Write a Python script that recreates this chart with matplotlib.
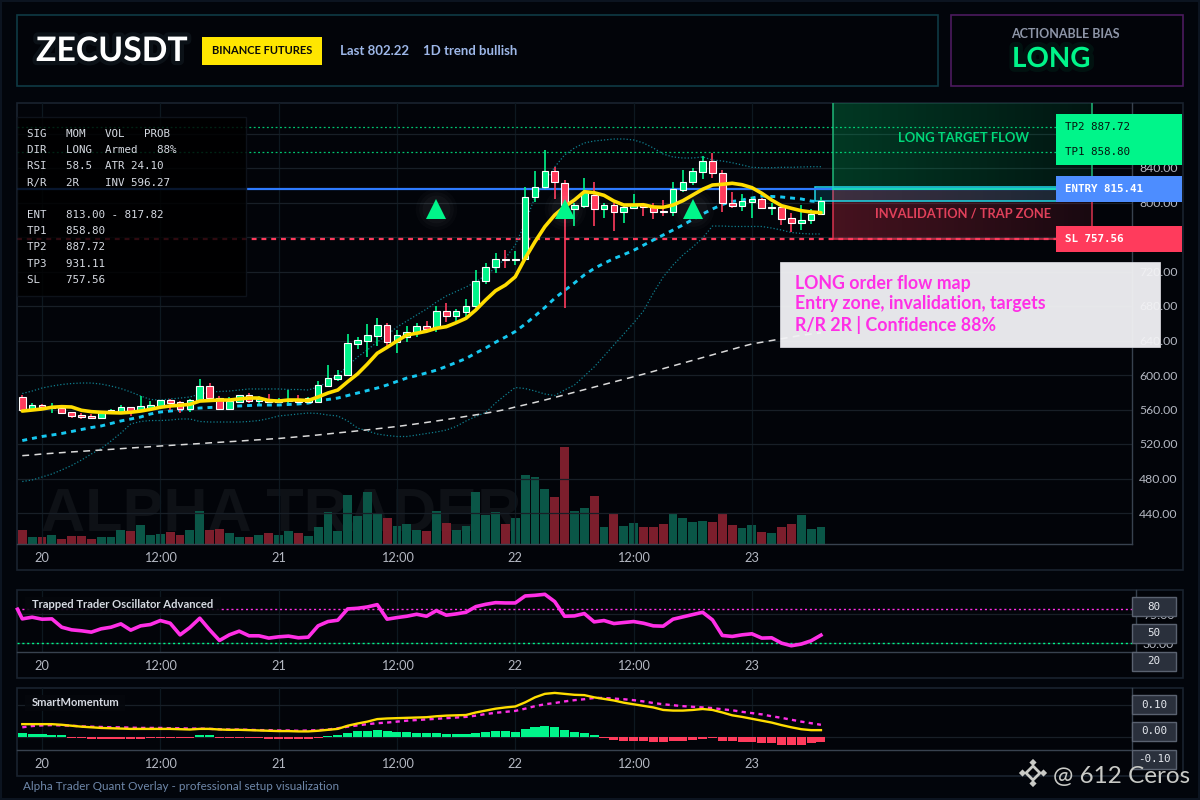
"""ZECUSDT trade setup board: candles, zones and two indicator panes."""

import matplotlib
matplotlib.use("Agg")
import matplotlib.pyplot as plt
import matplotlib.patheffects as pe
import numpy as np
from matplotlib.patches import Polygon, Rectangle

# hourly candles, index 2 is day 20 00:00
opens = [574.1, 560.2, 565.2, 561.4, 562.1, 556.7, 553.6, 552.5, 550.5, 556.7,
         557.5, 562.5, 558.6, 561.7, 564.4, 570.6, 568.3, 560.2, 571.0, 586.9,
         573.7, 561.0, 569.1, 576.4, 570.2, 571.8, 569.1, 569.5, 571.0, 569.1,
         569.1, 587.6, 595.7, 599.6, 636.3, 639.8, 645.6, 657.6, 638.3, 644.4,
         649.5, 656.4, 654.1, 673.9, 668.8, 673.4, 679.6, 708.6, 724.9, 734.5,
         733.7, 734.1, 806.0, 817.6, 836.2, 822.3, 792.8, 796.3, 808.3, 792.1,
         796.8, 789.3, 794.0, 797.7, 794.4, 789.8, 789.3, 814.8, 823.4, 835.7,
         848.1, 833.8, 799.0, 796.3, 800.9, 804.0, 794.1, 795.1, 781.7, 776.6,
         779.3, 786.3]
closes = [559.4, 564.8, 562.5, 563.3, 556.3, 552.9, 551.3, 550.5, 555.6, 559.0,
          562.5, 557.1, 563.7, 565.2, 570.6, 567.9, 560.2, 570.6, 586.9, 573.7,
          561.0, 570.2, 576.4, 570.2, 571.8, 569.1, 571.0, 571.0, 568.3, 573.0,
          588.0, 596.5, 600.0, 636.8, 640.2, 646.0, 657.6, 638.6, 646.0, 649.5,
          656.4, 653.7, 674.2, 668.8, 674.2, 680.0, 708.6, 724.9, 734.1, 733.7,
          734.5, 806.0, 817.6, 836.2, 823.4, 797.1, 797.1, 812.5, 792.1, 796.8,
          789.3, 794.4, 797.1, 795.1, 789.3, 789.5, 815.3, 823.4, 836.2, 848.1,
          833.8, 799.0, 796.3, 801.7, 804.0, 794.0, 794.6, 781.2, 776.6, 779.3,
          786.3, 802.22]
highs = [576.8, 567.5, 566.0, 567.1, 563.3, 557.5, 555.6, 554.8, 556.3, 560.6,
         565.2, 563.3, 575.7, 569.5, 571.4, 571.8, 569.5, 571.8, 595.0, 590.3,
         575.7, 574.1, 577.2, 578.7, 575.7, 578.0, 572.9, 582.6, 576.8, 574.1,
         593.0, 611.6, 605.8, 647.5, 643.7, 659.1, 665.7, 660.3, 652.2, 656.8,
         660.3, 662.6, 680.0, 683.1, 676.5, 687.8, 721.7, 729.9, 741.1, 744.9,
         743.8, 817.6, 836.5, 860.9, 840.8, 826.1, 799.4, 828.4, 823.8, 799.4,
         799.4, 797.1, 809.9, 799.4, 799.4, 802.9, 823.4, 837.7, 839.6, 853.9,
         857.0, 837.7, 812.2, 809.9, 806.7, 805.2, 799.1, 797.1, 787.5, 796.8,
         792.1, 806.0]
lows = [558.6, 559.4, 561.4, 556.3, 555.2, 550.5, 549.0, 549.8, 549.0, 556.3,
        556.7, 552.9, 557.5, 560.2, 564.0, 559.4, 555.9, 557.5, 570.2, 571.0,
        560.2, 560.2, 568.3, 567.9, 566.0, 567.9, 567.1, 567.1, 567.1, 568.3,
        568.3, 586.1, 593.0, 598.8, 629.8, 621.2, 633.6, 633.6, 625.8, 638.6,
        644.4, 651.4, 650.2, 661.8, 662.6, 667.6, 676.5, 705.5, 717.9, 724.4,
        727.5, 733.3, 800.9, 815.3, 804.0, 677.3, 772.7, 794.0, 772.7, 782.0,
        767.3, 776.6, 794.0, 784.3, 780.9, 784.3, 784.3, 812.5, 820.3, 827.3,
        828.8, 789.3, 794.0, 790.1, 781.7, 793.6, 785.5, 773.9, 766.2, 768.1,
        775.1, 785.2]
volumes = [14.3, 7.0, 7.0, 9.0, 5.3, 8.3, 8.3, 5.3, 7.3, 7.3,
           14.3, 13.3, 19.3, 9.3, 10.3, 12.0, 9.3, 14.3, 33.3, 14.3,
           15.3, 11.3, 7.3, 7.3, 9.3, 11.3, 9.3, 13.3, 11.3, 8.3,
           17.3, 32.3, 13.3, 49.3, 28.3, 52.3, 31.3, 26.3, 18.3, 20.3,
           14.3, 13.3, 33.3, 21.3, 14.3, 18.3, 52.3, 29.3, 32.3, 20.3,
           26.3, 69.3, 67.3, 55.3, 47.3, 97.3, 33.3, 36.3, 48.3, 17.3,
           30.3, 18.3, 21.3, 17.3, 17.3, 20.3, 31.3, 26.3, 22.3, 23.3,
           22.3, 31.3, 19.3, 16.3, 19.3, 12.3, 11.3, 17.3, 20.3, 29.3,
           15.3, 17.3]

ema_fast = [558.2, 559.4, 560.6, 562.6, 563.3, 562.9, 559.1, 557.5, 556.8, 556.3,
            556.0, 556.8, 558.2, 560.2, 562.6, 564.1, 564.9, 566.0, 569.8, 570.4,
            571.0, 571.0, 572.2, 573.3, 573.3, 570.4, 569.8, 571.0, 571.0, 570.4,
            574.5, 579.1, 582.6, 592.2, 601.2, 612.7, 625.2, 632.1, 639.4, 646.4,
            648.4, 650.7, 654.2, 656.0, 660.6, 665.7, 675.4, 687.0, 697.7, 704.3,
            713.9, 735.3, 754.5, 772.0, 785.5, 795.1, 802.9, 812.5, 811.4, 808.3,
            801.7, 797.1, 797.1, 797.4, 794.8, 794.4, 797.1, 802.1, 808.7, 815.3,
            820.3, 821.1, 822.3, 820.6, 817.2, 810.7, 802.9, 796.3, 793.3, 790.5,
            789.0, 788.2]
ema_slow = [524.0, 526.4, 528.7, 530.4, 532.2, 534.5, 536.8, 539.1, 540.9, 543.8,
            546.7, 549.0, 551.3, 554.8, 557.1, 558.2, 559.4, 560.6, 561.7, 562.3,
            562.9, 563.5, 564.1, 564.6, 565.2, 565.2, 565.2, 565.8, 566.4, 567.5,
            569.8, 571.6, 573.3, 576.2, 579.1, 582.0, 584.9, 588.4, 592.5, 596.5,
            599.3, 602.4, 605.6, 609.9, 614.5, 619.1, 625.5, 631.3, 638.0, 644.0,
            650.4, 659.0, 668.5, 678.3, 689.0, 698.0, 706.7, 716.0, 723.5, 729.5,
            735.0, 739.6, 744.5, 750.5, 756.5, 762.3, 768.1, 773.9, 780.3, 786.7,
            792.5, 797.7, 801.2, 802.9, 805.2, 807.5, 807.0, 806.4, 805.2, 804.1,
            801.7, 800.6]
ema_long = [506.5, 507.3, 508.4, 509.2, 510.0, 510.8, 511.5, 512.3, 513.0, 513.8,
            514.6, 515.4, 516.1, 516.9, 517.7, 518.4, 519.1, 519.8, 520.5, 521.3,
            522.0, 522.7, 523.4, 524.2, 524.9, 525.7, 526.4, 527.4, 528.4, 529.4,
            530.5, 531.7, 532.9, 534.0, 535.2, 536.4, 537.7, 539.0, 540.3, 541.8,
            543.4, 545.0, 546.7, 548.4, 550.2, 552.0, 553.8, 555.7, 557.7, 560.0,
            562.9, 565.5, 568.2, 571.0, 574.0, 577.0, 580.0, 583.0, 586.0, 589.0,
            592.0, 595.0, 598.0, 601.0, 604.2, 607.4, 610.6, 613.8, 617.0, 620.2,
            623.4, 626.6, 629.8, 633.0, 636.0, 638.0, 640.0, 642.0, 644.0, 646.0,
            647.5, 649.0]
bb_upper = [578.5, 581.4, 584.9, 587.2, 589.0, 590.1, 590.7, 590.7, 589.5, 587.2,
            584.3, 580.3, 575.7, 571.6, 571.0, 572.2, 573.3, 574.5, 577.9, 580.3,
            580.9, 581.4, 582.6, 583.8, 583.8, 583.8, 583.8, 583.2, 583.2, 582.6,
            586.1, 591.9, 600.0, 610.4, 620.9, 629.0, 638.3, 646.4, 655.6, 662.6,
            669.6, 676.5, 684.6, 691.6, 696.8, 702.0, 707.8, 715.9, 724.0, 735.6,
            750.7, 776.2, 806.4, 822.6, 841.2, 855.1, 863.2, 869.0, 871.3, 872.5,
            873.6, 873.6, 872.5, 869.0, 863.2, 856.2, 852.8, 851.6, 851.6, 852.8,
            849.3, 848.1, 846.1, 843.5, 840.8, 840.3, 840.3, 840.8, 840.8, 841.2,
            841.5, 841.5]
bb_lower = [476.5, 478.3, 481.7, 485.2, 489.9, 495.1, 501.4, 508.4, 514.8, 523.5,
            532.7, 543.2, 546.1, 547.2, 547.2, 547.8, 549.0, 549.0, 546.1, 545.5,
            545.5, 545.5, 545.5, 546.1, 547.2, 549.5, 552.5, 553.6, 554.8, 555.9,
            555.4, 553.6, 552.5, 546.7, 538.5, 535.1, 531.6, 529.9, 528.7, 528.7,
            530.4, 532.2, 533.9, 536.2, 540.3, 546.7, 551.9, 556.5, 567.5, 576.8,
            585.5, 584.3, 581.4, 578.0, 576.2, 582.6, 588.4, 598.8, 609.3, 622.0,
            634.8, 647.5, 660.3, 674.2, 695.0, 713.6, 727.5, 739.1, 748.4, 758.8,
            772.7, 772.7, 772.2, 772.2, 772.2, 772.2, 770.4, 768.1, 765.2, 764.1,
            763.5, 763.5]

oscillator = [67.7, 70.3, 67.2, 67.7, 54.7, 50.6, 49.1, 47.0, 52.2, 54.7,
              59.9, 50.1, 56.8, 58.9, 65.1, 60.9, 42.8, 54.2, 68.7, 50.6,
              34.0, 42.8, 48.5, 41.3, 41.3, 37.7, 39.7, 40.8, 38.2, 39.2,
              56.8, 63.5, 65.6, 83.2, 84.2, 86.3, 89.9, 67.2, 69.7, 71.8,
              74.9, 71.8, 80.6, 73.4, 75.4, 78.0, 86.8, 90.4, 93.0, 92.5,
              92.5, 103.4, 104.4, 106.0, 94.6, 71.8, 72.3, 76.0, 63.0, 65.1,
              60.4, 62.0, 63.5, 60.9, 56.8, 56.3, 67.2, 70.8, 74.4, 78.0,
              66.1, 41.8, 40.3, 42.8, 44.4, 37.7, 38.2, 29.9, 25.8, 28.4,
              33.5, 42.3]
osc_first = 82.7

mom_line = [0.040, 0.040, 0.040, 0.040, 0.038, 0.035, 0.032, 0.030, 0.028, 0.027,
            0.026, 0.025, 0.025, 0.025, 0.025, 0.025, 0.024, 0.023, 0.025, 0.025,
            0.023, 0.022, 0.022, 0.021, 0.020, 0.019, 0.018, 0.018, 0.017, 0.017,
            0.019, 0.022, 0.025, 0.035, 0.042, 0.048, 0.056, 0.058, 0.059, 0.060,
            0.061, 0.062, 0.065, 0.067, 0.068, 0.069, 0.077, 0.083, 0.089, 0.093,
            0.096, 0.109, 0.125, 0.136, 0.139, 0.136, 0.133, 0.132, 0.125, 0.120,
            0.115, 0.108, 0.103, 0.098, 0.093, 0.085, 0.083, 0.083, 0.085, 0.088,
            0.085, 0.077, 0.068, 0.063, 0.057, 0.051, 0.045, 0.037, 0.030, 0.024,
            0.021, 0.021]
mom_signal = [0.030, 0.034, 0.036, 0.037, 0.036, 0.035, 0.033, 0.032, 0.031, 0.030,
              0.030, 0.029, 0.028, 0.028, 0.028, 0.027, 0.027, 0.026, 0.026, 0.025,
              0.024, 0.023, 0.023, 0.022, 0.021, 0.021, 0.020, 0.020, 0.019, 0.020,
              0.021, 0.023, 0.027, 0.032, 0.036, 0.040, 0.043, 0.045, 0.048, 0.051,
              0.053, 0.055, 0.057, 0.059, 0.061, 0.063, 0.067, 0.072, 0.076, 0.079,
              0.082, 0.089, 0.097, 0.103, 0.107, 0.112, 0.116, 0.119, 0.123, 0.123,
              0.121, 0.119, 0.116, 0.112, 0.107, 0.103, 0.100, 0.097, 0.095, 0.093,
              0.091, 0.087, 0.084, 0.079, 0.075, 0.071, 0.065, 0.060, 0.054, 0.048,
              0.043, 0.038]
mom_hist = [0.013, 0.010, 0.010, 0.007, 0.005, -0.004, -0.004, -0.006, -0.006, -0.006,
            -0.006, -0.006, -0.006, -0.004, -0.004, -0.004, -0.004, -0.004, 0.005, 0.005,
            -0.004, -0.004, -0.004, -0.004, -0.004, -0.006, -0.006, -0.006, -0.006, -0.006,
            -0.004, 0.004, 0.007, 0.013, 0.017, 0.019, 0.023, 0.019, 0.016, 0.016,
            0.013, 0.013, 0.013, 0.010, 0.010, 0.010, 0.013, 0.016, 0.019, 0.019,
            0.016, 0.026, 0.032, 0.035, 0.032, 0.023, 0.016, 0.013, 0.007, -0.003,
            -0.009, -0.012, -0.012, -0.015, -0.018, -0.018, -0.015, -0.012, -0.009, -0.006,
            -0.005, -0.012, -0.015, -0.018, -0.018, -0.021, -0.021, -0.025, -0.025, -0.025,
            -0.021, -0.018]

# trade levels
entry = 815.41
entry_zone = (802.22, 817.82)
stop = 757.56
tp1 = 858.80
tp2 = 887.72
tp3 = 931.11
signal_candles = [42, 55, 68]
signal_price = 793.0

price_ticks = [440, 480, 520, 560, 600, 640, 680, 720, 760, 800, 840, 880]
time_ticks = [0, 12, 24, 36, 48, 60, 72]
time_labels = ["20", "12:00", "21", "12:00", "22", "12:00", "23"]

panel_rows = [
    "SIG   MOM   VOL   PROB",
    "DIR   LONG  Armed   88%",
    "RSI   58.5  ATR 24.10",
    "R/R   2R    INV 596.27",
    "",
    "ENT   813.00 - 817.82",
    "TP1   858.80",
    "TP2   887.72",
    "TP3   931.11",
    "SL    757.56",
]

GREEN = "#00F58A"
RED = "#FF3B5C"
BLUE = "#2E7BFF"
YELLOW = "#FFDD00"
CYAN = "#16C8F0"
MAGENTA = "#FF2FE6"
PAGE = "#02050B"
PANEL = "#020409"
GRID_H = "#181F27"
GRID_V = "#0D1820"
AXIS = "#38424F"
FRAME = "#19232F"
TICK = "#B4B8C2"
SANS = ["Lato", "DejaVu Sans"]
MONO = "DejaVu Sans Mono"

W, H = 1200, 800
times = np.arange(len(closes)) - 2
hour_px = 9.86
price_px = 0.8625


def px_rect(x0, y0, x1, y1):
    return [x0 / W, 1 - y1 / H, (x1 - x0) / W, (y1 - y0) / H]


def hour_at(x):
    return (x - 42) / hour_px


def y_of_price(p):
    return 513 - (p - 440) * price_px


def style_pane(ax, ticks, labels, xleft, xright, right_ticks, fmt, show_right=True):
    ax.set_facecolor("none")
    ax.set_xlim(hour_at(xleft), hour_at(xright))
    ax.set_xticks(ticks)
    ax.set_xticklabels(labels)
    ax.tick_params(axis="x", length=0, pad=6, labelsize=9.2, labelcolor=TICK)
    ax.tick_params(axis="y", length=0, pad=5, labelsize=8.8, labelcolor=TICK,
                   left=False, labelleft=False, right=False, labelright=show_right)
    ax.set_yticks(right_ticks)
    ax.set_yticklabels([fmt.format(v) for v in right_ticks])
    for lab in ax.get_xticklabels() + ax.get_yticklabels():
        lab.set_fontfamily(SANS)
    ax.grid(True, axis="y", color=GRID_H, linewidth=0.9)
    ax.grid(True, axis="x", color=GRID_V, linewidth=0.9)
    ax.set_axisbelow(True)
    ax.spines[["top", "left"]].set_visible(False)
    ax.spines[["bottom", "right"]].set_color(AXIS)
    ax.spines[["bottom", "right"]].set_linewidth(1.0)


fig = plt.figure(figsize=(12, 8), dpi=100, facecolor=PAGE)
under = fig.add_axes([0, 0, 1, 1], zorder=0)
under.set_xlim(0, W)
under.set_ylim(H, 0)
under.axis("off")
over = fig.add_axes([0, 0, 1, 1], zorder=10)
over.set_xlim(0, W)
over.set_ylim(H, 0)
over.axis("off")


def box(ax, x0, y0, x1, y1, face="none", edge="none", lw=1.0, alpha=None, zorder=2):
    ax.add_patch(Rectangle((x0, y0), x1 - x0, y1 - y0, facecolor=face, edgecolor=edge,
                           linewidth=lw, alpha=alpha, zorder=zorder))


# frames
box(under, 1, 1, 1199, 799, edge="#0C1420", lw=1.5)
box(under, 17, 15, 938, 86, face=PANEL, edge="#0F3A44", lw=1.2)
box(under, 951, 15, 1183, 86, face=PANEL, edge="#4C1A5E", lw=1.2)
box(under, 17, 103, 1183, 570, face=PANEL, edge=FRAME, lw=1.2)
box(under, 17, 590, 1183, 678, face=PANEL, edge=FRAME, lw=1.2)
box(under, 17, 688, 1183, 776, face=PANEL, edge=FRAME, lw=1.2)

# volume sits behind the price axes
vol_ax = fig.add_axes(px_rect(17, 103, 1132, 544), zorder=1)
vol_ax.set_xlim(hour_at(17), hour_at(1132))
vol_ax.set_ylim(0, 441)
vol_ax.axis("off")
vol_ax.text(0.2368, 0.0635, "ALPHA TRADER", transform=vol_ax.transAxes, ha="center", va="center",
            fontsize=44, fontweight="bold", family="Liberation Sans", color="#0E1116", zorder=1)
up = np.array(closes) >= np.array(opens)
vol_colors = ["#0B5A4A" if u else "#82202E" for u in up]
vol_ax.bar(times, volumes, width=0.9, color=vol_colors, alpha=0.96, zorder=2)

ax = fig.add_axes(px_rect(17, 103, 1132, 544), zorder=2)
style_pane(ax, time_ticks, time_labels, 17, 1132, price_ticks, "{:.2f}")
ymin, ymax = 440 - 31 / price_px, 440 + 410 / price_px
ax.set_ylim(ymin, ymax)

# target / invalidation zones, gradient fades to the right
zone_left, zone_right = hour_at(833), hour_at(1092)
fade = np.linspace(1, 0.35, 64)
green_img = np.zeros((1, 64, 4))
green_img[..., :3] = (0, 1, 0.53)
green_img[..., 3] = 0.21 * fade
red_img = np.zeros((1, 64, 4))
red_img[..., :3] = (1, 0.23, 0.36)
red_img[..., 3] = 0.27 * fade
ax.imshow(green_img, extent=(zone_left, zone_right, entry, tp3), aspect="auto", zorder=1.2)
ax.imshow(red_img, extent=(zone_left, zone_right, stop, entry), aspect="auto", zorder=1.2)
ax.set_xlim(hour_at(17), hour_at(1132))
ax.set_ylim(ymin, ymax)
ax.add_patch(Rectangle((zone_left, entry), zone_right - zone_left, tp3 - entry, fill=False,
                       edgecolor="#1FB878", linewidth=1.1, zorder=1.4))
ax.add_patch(Rectangle((zone_left, stop), zone_right - zone_left, entry - stop, fill=False,
                       edgecolor="#D8324E", linewidth=1.1, zorder=1.4))
ax.add_patch(Rectangle((hour_at(815), entry_zone[0]), hour_at(1060) - hour_at(815),
                       entry_zone[1] - entry_zone[0], facecolor="#16C8F0", alpha=0.16, zorder=1.5))
ax.add_patch(Rectangle((hour_at(815), entry_zone[0]), hour_at(1060) - hour_at(815),
                       entry_zone[1] - entry_zone[0], fill=False, edgecolor="#1FD8E8",
                       linewidth=1.1, zorder=1.5))

# levels
ax.axhline(tp1, color=GREEN, linewidth=0.9, alpha=0.8, linestyle=(0, (1.5, 2)), zorder=1.6)
ax.axhline(tp2, color=GREEN, linewidth=0.9, alpha=0.8, linestyle=(0, (1.5, 2)), zorder=1.6)
ax.axhline(entry, color=BLUE, linewidth=1.6, zorder=1.6)
ax.plot([zone_left, hour_at(1056)], [entry, entry], color="#19D8B8", linewidth=1.4, zorder=1.7)
ax.axhline(stop, color=RED, linewidth=1.6, linestyle=(0, (2.2, 2.2)), zorder=1.6)

# overlays under the candles
ax.plot(times, bb_upper, color="#0F7F8F", linewidth=0.9, linestyle=(0, (1, 1.6)), zorder=2)
ax.plot(times, bb_lower, color="#0F7F8F", linewidth=0.9, linestyle=(0, (1, 1.6)), zorder=2)
ax.plot(times, ema_long, color="#DADADA", linewidth=1.1, linestyle=(0, (4.5, 3.5)), zorder=2)
ax.plot(times, ema_slow, color=CYAN, linewidth=2.1, linestyle=(0, (1.7, 1.7)), zorder=2.1)

# candles
for t, o, h, l, c, is_up in zip(times, opens, highs, lows, closes, up):
    col = GREEN if is_up else RED
    ax.vlines(t, l, h, color=col, linewidth=1.2, zorder=3)
    low_side, body = min(o, c), max(abs(c - o), 0.6)
    ax.add_patch(Rectangle((t - 0.34, low_side), 0.68, body, facecolor=col, edgecolor="white",
                           linewidth=0.8, zorder=3.2))

ax.plot(times, ema_fast, color=YELLOW, linewidth=2.6, zorder=4, solid_capstyle="round")

# signal arrows with a soft glow
sig_t = times[signal_candles]
sig_p = [signal_price] * len(signal_candles)
for size, alpha in [(30, 0.018), (25, 0.022), (20, 0.028)]:
    ax.plot(sig_t, sig_p, linestyle="none", marker="o", markersize=size, color="white",
            alpha=alpha, markeredgewidth=0, zorder=4.5)
ax.plot(sig_t, sig_p, linestyle="none", marker="^", markersize=14, color=GREEN,
        markeredgewidth=0, zorder=5)

# oscillator pane
ax2 = fig.add_axes(px_rect(17, 590, 1136, 652), zorder=2)
style_pane(ax2, time_ticks, time_labels, 17, 1136, [30, 75], "{:.2f}")
ax2.set_ylim(30 - 9 / 0.6444, 75 + 24.3 / 0.6444)
ax2.axhline(82.5, color=MAGENTA, linewidth=1.0, linestyle=(0, (1.5, 2)), zorder=2)
ax2.axhline(30, color=GREEN, linewidth=1.0, linestyle=(0, (1.5, 2)), zorder=2)
ax2.plot(np.r_[hour_at(17.5), times], [osc_first] + oscillator, color=MAGENTA, linewidth=2.6, zorder=3,
         clip_on=False)

# momentum pane, its value chips replace the tick labels
ax3 = fig.add_axes(px_rect(17, 688, 1132, 750), zorder=2)
style_pane(ax3, time_ticks, time_labels, 17, 1132, [0.0, 0.1], "{:.2f}", show_right=False)
ax3.set_ylim(-13.3 / 317, 49 / 317)
hist_colors = [GREEN if v >= 0 else RED for v in mom_hist]
ax3.bar(times, mom_hist, width=0.92, color=hist_colors, zorder=2)
ax3.plot(times, mom_signal, color=MAGENTA, linewidth=1.7, linestyle=(0, (1.8, 1.8)), zorder=3)
ax3.plot(times, mom_line, color=YELLOW, linewidth=1.7, zorder=4)

# header
over.text(36, 51, "ZECUSDT", color="white", fontsize=24.3, fontweight="bold", family=SANS,
          va="center", path_effects=[pe.withStroke(linewidth=6, foreground="#9FE8FF", alpha=0.06)])
box(over, 202, 37, 322, 65, face="#FFE600")
over.text(262, 51, "BINANCE FUTURES", color="#0A0A0A", fontsize=8, family=SANS, fontweight="bold",
          ha="center", va="center")
over.text(340, 51, "Last 802.22", color="#9DB7E8", fontsize=9.5, family=SANS, fontweight="bold", va="center")
over.text(423, 51, "1D trend bullish", color="#9DB7E8", fontsize=9.5, family=SANS, fontweight="bold", va="center")
over.text(1011, 34, "ACTIONABLE BIAS", color="#8E96A8", fontsize=9, family=SANS, fontweight="bold", va="center")
over.text(1012, 59, "LONG", color=GREEN, fontsize=20, fontweight="bold", family=SANS, va="center",
          path_effects=[pe.withStroke(linewidth=7, foreground=GREEN, alpha=0.06)])

# signal table, level lines stay faintly visible through it
box(over, 17, 117, 246, 296, face="#000000", edge="#10161F", lw=1.0, alpha=0.82)
row_y = [134, 150, 166, 183, 199, 215, 231, 247, 264, 280]
for row, y in zip(panel_rows, row_y):
    over.text(27, y, row, color="#D6DAE2", fontsize=7.8, family=MONO, va="center")

# zone captions
over.text(963, 138, "LONG TARGET FLOW", color="#00D87A", fontsize=9.4, family=SANS, fontweight="bold",
          ha="center", va="center")
over.text(963, 213, "INVALIDATION / TRAP ZONE", color="#E0405A", fontsize=9.3, family=SANS,
          fontweight="bold", ha="center", va="center")

# price flags
for name, level, face, ink in [("TP2", tp2, GREEN, "#06140D"), ("TP1", tp1, GREEN, "#06140D"),
                               ("ENTRY", entry, "#4D8DFF", "white"), ("SL", stop, RED, "white")]:
    yc = y_of_price(level)
    box(over, 1056, yc - 13, 1182, yc + 13, face=face, zorder=3)
    over.text(1065, yc, f"{name} {level:.2f}", color=ink, fontsize=7.8, family=MONO,
              fontweight="bold" if ink == "white" else "normal", va="center", zorder=4)

# note card
box(over, 780, 262, 1160, 347, face="#F3F3F6", edge="#D8D8DE", lw=0.6, alpha=0.95, zorder=3)
for y, line in [(283, "LONG order flow map"), (304, "Entry zone, invalidation, targets"),
                (325, "R/R 2R | Confidence 88%")]:
    over.text(795, y, line, color=MAGENTA, fontsize=12.8, family=SANS, fontweight="bold", va="center", zorder=4)

# pane titles
box(over, 25, 597, 221, 613, face="#05070C", alpha=0.9)
over.text(32, 605, "Trapped Trader Oscillator Advanced", color="#D6DAE2", fontsize=8.1, family=SANS,
          fontweight="bold", va="center", zorder=4)
box(over, 25, 695, 125, 711, face="#05070C", alpha=0.9)
over.text(32, 703, "SmartMomentum", color="#D6DAE2", fontsize=8, family=SANS, fontweight="bold",
          va="center", zorder=4)

# value chips on the indicator axes
for label, y0 in [("80", 597), ("50", 624), ("20", 652), ("0.10", 695), ("0.00", 722), ("-0.10", 750)]:
    box(over, 1132, y0, 1176, y0 + 19, face="#2A303C", edge="#5A6270", lw=1.0, zorder=3)
    over.text(1154, y0 + 9.5, label, color="#E6E9EF", fontsize=7.8, family=MONO, ha="center", va="center", zorder=4)

# footer and attribution
over.text(23, 787, "Alpha Trader Quant Overlay - professional setup visualization", color="#6F88AA",
          fontsize=8.4, family=SANS, va="center")
logo = "#C9CAC6"
for cx, cy, r in [(1033, 762.5, 3.6), (1033, 783.5, 3.6), (1022.5, 773, 3.6), (1043.5, 773, 3.6)]:
    over.add_patch(Polygon([(cx, cy - r), (cx + r, cy), (cx, cy + r), (cx - r, cy)], facecolor=logo,
                           edgecolor="none", zorder=5))
over.add_patch(Polygon([(1033, 766), (1040, 773), (1033, 780), (1026, 773)], facecolor="none",
                       edgecolor=logo, linewidth=2.0, zorder=5))
over.text(1053, 776, "@ 612 Ceros", color=logo, fontsize=17.5, family=SANS, va="center", zorder=5)

fig.savefig("out.png", dpi=100, facecolor=PAGE)
plt.close(fig)
